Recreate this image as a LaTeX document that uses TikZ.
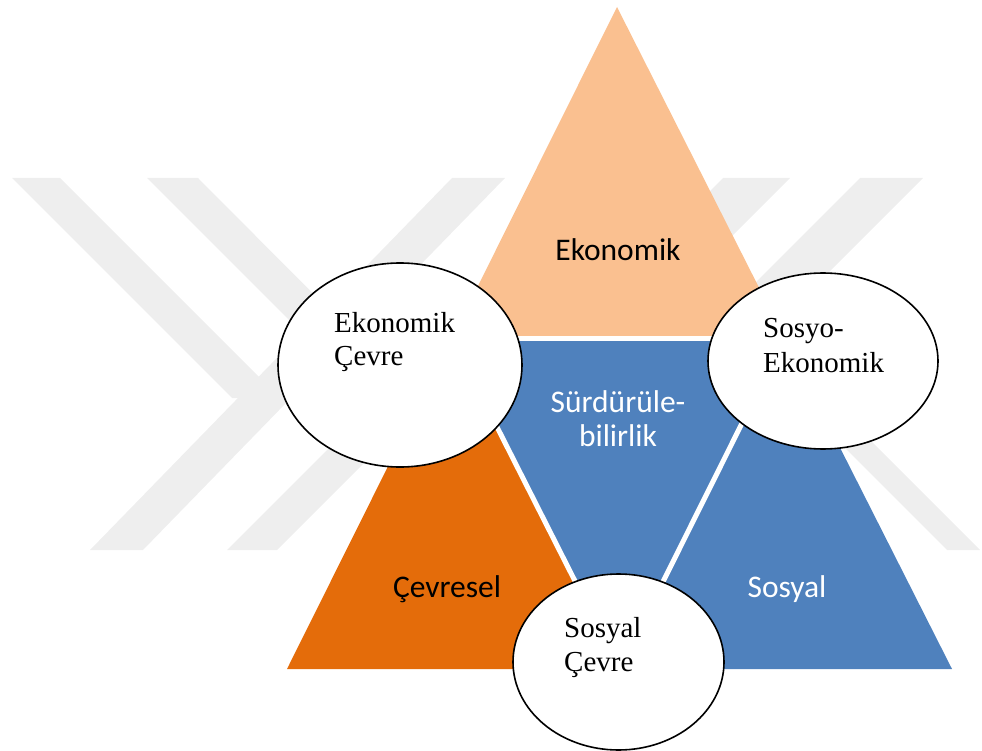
\documentclass[tikz,border=0pt]{standalone}
\usepackage{fontspec}
\setmainfont{Liberation Serif}
\newfontfamily\calibri{Carlito}
\usetikzlibrary{shapes.geometric,calc}

\definecolor{ekoLight}{HTML}{FAC090}
\definecolor{cevreOrange}{HTML}{E46C0A}
\definecolor{sosyalBlue}{HTML}{4F81BD}
\definecolor{wmGray}{HTML}{EEEEEE}

\tikzset{
	oval/.style={ellipse, draw, fill=white, line width=1.6pt, inner sep=0pt},
	sanslbl/.style={font=\calibri\fontsize{31.5}{34}\selectfont, anchor=base, inner sep=0pt},
	seriflbl/.style={font=\fontsize{29}{34}\selectfont, anchor=base west, inner sep=0pt},
}

\begin{document}
\begin{tikzpicture}[x=1pt,y=-1pt]
	\useasboundingbox (0,0) rectangle (982,751);
	
	% faint chevrons in the background
	\begin{scope}
	\clip (0,178) rectangle (982,550);
	\fill[wmGray] (12,178) -- (60,178) -- (282,400) -- (232,398) -- cycle;
	\fill[wmGray] (147,178) -- (198,178) -- (423,404) -- (373,404) -- cycle;
	\fill[wmGray] (452,178) -- (505,178) -- (143,550) -- (90,550) -- cycle;
	\fill[wmGray] (599,178) -- (649,178) -- (277,550) -- (227,550) -- cycle;
	\fill[wmGray] (723,178) -- (790,178) -- (418,550) -- (351,550) -- cycle;
	\fill[wmGray] (860,178) -- (923,178) -- (551,550) -- (488,550) -- cycle;
	\fill[wmGray] (575,178) -- (608,178) -- (980,550) -- (947,550) -- cycle;
	\end{scope}
	
	% big triangle and its four parts
	\coordinate (top) at (617,7);
	\coordinate (bl) at (287,669);
	\coordinate (br) at (952,669);
	\coordinate (ml) at ($(top)!0.5!(bl)$);
	\coordinate (mr) at ($(top)!0.5!(br)$);
	\coordinate (mb) at ($(bl)!0.5!(br)$);
	
	\fill[ekoLight] (top) -- (ml) -- (mr) -- cycle;
	\fill[cevreOrange] (ml) -- (bl) -- (mb) -- cycle;
	\fill[sosyalBlue] (mr) -- (mb) -- (br) -- cycle;
	\fill[sosyalBlue] (ml) -- (mr) -- (mb) -- cycle;
	\draw[white, line width=5pt] (ml) -- (mr);
	\draw[white, line width=5pt] (ml) -- (mb);
	\draw[white, line width=5pt] (mr) -- (mb);
	
	\node[sanslbl] (ekonomik) at (618,261) {Ekonomik};
	\node[sanslbl, white] (surdur) at (618,412) {Sürdürüle-};
	\node[sanslbl, white] (bilir) at (618,446) {bilirlik};
	\node[sanslbl] (cevresel) at (447,597) {Çevresel};
	\node[sanslbl, white] (sosyal) at (787,597) {Sosyal};
	
	% ellipses
	\node[oval, minimum width=244pt, minimum height=204pt] (ekcevre) at (400,365) {};
	\node[oval, minimum width=230pt, minimum height=176pt] (sosyoek) at (823,361) {};
	\node[oval, minimum width=211pt, minimum height=176pt] (sosyalcevre) at (618.5,662) {};
	
	\node[seriflbl] (ekcevreA) at (334,332) {Ekonomik};
	\node[seriflbl] (ekcevreB) at (334,365) {Çevre};
	\node[seriflbl] (sosyoekA) at (763,337) {Sosyo-};
	\node[seriflbl] (sosyoekB) at (763,372) {Ekonomik};
	\node[seriflbl] (sosyalcevreA) at (564,637) {Sosyal};
	\node[seriflbl] (sosyalcevreB) at (564,671) {Çevre};
	
\end{tikzpicture}
\end{document}
